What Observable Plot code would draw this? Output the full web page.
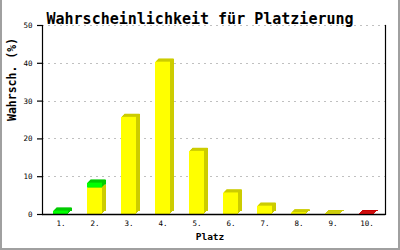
<!DOCTYPE html>
<html><head><meta charset="utf-8">
<script src="https://cdn.jsdelivr.net/npm/d3@7"></script>
<script src="https://cdn.jsdelivr.net/npm/@observablehq/plot@0.6"></script>
<style>
body{margin:0;background:#fff}
#wrap{position:relative;width:400px;height:250px;overflow:hidden}
#border{position:absolute;left:0;top:0;width:400px;height:250px;box-sizing:border-box;border:2px solid #a0a0a0;border-top:none;pointer-events:none}
svg{display:block}
</style></head><body><div id="wrap"><div id="border"></div></div>
<script>
const places = ["1.", "2.", "3.", "4.", "5.", "6.", "7.", "8.", "9.", "10."];
const yellow = [0, 7.0, 25.7, 40.3, 16.7, 5.7, 2.2, 0.45, 0.25, 0];
const green  = [0.9, 1.3, 0, 0, 0, 0, 0, 0, 0, 0];
const red    = [0, 0, 0, 0, 0, 0, 0, 0, 0, 0.25];
const yTicks = [0, 10, 20, 30, 40, 50];
const title = "Wahrscheinlichkeit für Platzierung";
const xLabel = "Platz";
const yLabel = "Wahrsch. (%)";

const front = {yellow: "#ffff00", green: "#00ff00", red: "#ff0000"};
const dark  = {yellow: "#cccc00", green: "#00cc00", red: "#cc0000"};

const rows = [];
for (const [series, vals] of [["yellow", yellow], ["green", green], ["red", red]]) {
  vals.forEach((v, i) => { if (v > 0) rows.push({place: places[i], series, value: v}); });
}

const font = "DejaVu Sans Mono";
const depthLayers = [4, 3, 2, 1].map(i =>
  Plot.barY(rows, {x: "place", y: "value", fill: d => dark[d.series], dx: i, dy: -Math.min(i, 3)})
);

const chart = Plot.plot({
  width: 400, height: 250,
  marginLeft: 42, marginRight: 15, marginTop: 25, marginBottom: 36,
  style: {fontFamily: font, background: "white", overflow: "visible"},
  x: {domain: places, paddingInner: 0.56, paddingOuter: 0.28, label: null},
  y: {domain: [0, 50], label: null},
  marks: [
    Plot.gridY(yTicks.slice(1), {stroke: "#c0c0c0", strokeOpacity: 1, strokeDasharray: "2,4", shapeRendering: "crispEdges"}),
    ...depthLayers,
    Plot.barY(rows, {x: "place", y: "value", fill: d => front[d.series]}),
    Plot.ruleY([0], {stroke: "black", strokeWidth: 1.5}),
    Plot.frame({anchor: "left", stroke: "black", strokeWidth: 1.2}),
    Plot.frame({anchor: "right", stroke: "black", strokeWidth: 1.2}),
    Plot.axisY({ticks: yTicks, tickSize: 5, tickPadding: 5, fontSize: 7.5, label: null, fill: "black", stroke: "black", strokeWidth: 1.2}),
    Plot.axisX({tickSize: 0, tickPadding: 6, fontSize: 7.5, label: null, fill: "black"}),
    Plot.text([title], {frameAnchor: "top", dx: -14, dy: -12, fontSize: 15, fontWeight: "bold", fontFamily: font, fill: "black"}),
    Plot.text([yLabel], {frameAnchor: "left", rotate: -90, dx: -30, dy: 1, fontSize: 11.5, fontWeight: "bold", fontFamily: font, fill: "black"}),
    Plot.text([xLabel], {frameAnchor: "bottom", dx: -4, dy: 25, fontSize: 9.5, fontWeight: "bold", fontFamily: font, fill: "black"})
  ]
});
document.getElementById("wrap").prepend(chart);
</script></body></html>
